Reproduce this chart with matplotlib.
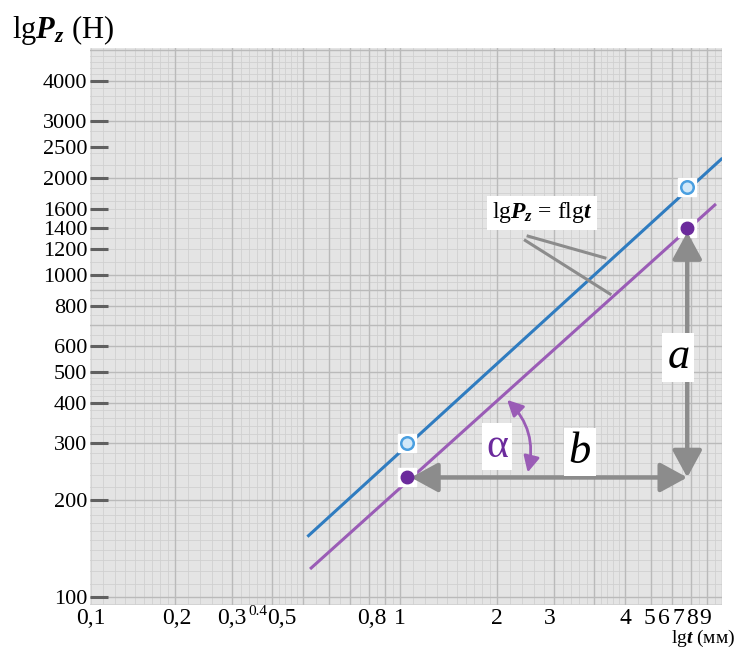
"""lgPz = f(lgt): Kraft Pz über Schnitttiefe t im doppeltlogarithmischen Raster."""

import numpy as np
import matplotlib.pyplot as plt
from matplotlib.patches import FancyArrowPatch

plt.rcParams["font.family"] = ["Liberation Serif", "DejaVu Serif"]
plt.rcParams["mathtext.fontset"] = "custom"
plt.rcParams["mathtext.rm"] = "Liberation Serif"
plt.rcParams["mathtext.it"] = "Liberation Serif:italic"
plt.rcParams["mathtext.bf"] = "Liberation Serif:bold"
plt.rcParams["mathtext.bfit"] = "Liberation Serif:italic:bold"

# Daten

# Geraden (Anfang, Ende)
BLAU_T = [0.52, 9.95]
BLAU_P = [155, 2290]
LILA_T = [0.53, 9.5]
LILA_P = [123, 1650]

# Messpunkte
PUNKT_T = [1.05, 7.8]
BLAU_PUNKT_P = [300, 1875]
LILA_PUNKT_P = [235, 1400]

# Achsenbeschriftung
Y_TICKS = [100, 200, 300, 400, 500, 600, 800, 1000, 1200, 1400, 1600,
           2000, 2500, 3000, 4000]
X_LABELS = ["0,1", "0,2", "0,3", "0,5", "0,8", "1", "2", "3", "4",
            "5", "6", "7", "8", "9"]
X_LABEL_POS = [0.11, 0.203, 0.30, 0.43, 0.82, 1.0, 2.0, 2.92, 5.0,
               5.95, 6.6, 7.3, 8.05, 8.85]

GRAU = "#8c8c8c"
BLAU = "#2f7cc0"
LILA = "#9a5cb6"
LILA_DUNKEL = "#6b2a9c"


def rasterlinien(lo, hi):
    """Feine, mittlere und grobe Linien des Logpapiers."""
    fein, mittel, grob = [], [], []
    for d in range(int(np.floor(np.log10(lo))), int(np.ceil(np.log10(hi))) + 1):
        base = 10.0 ** d
        grob.append(base)
        mittel += [k * base for k in range(2, 10)]
        fein += [base * (1 + 0.1 * k) for k in range(1, 10)]
        fein += [base * (2 + 0.2 * k) for k in range(1, 15) if k % 5]
        fein += [base * (5 + 0.5 * k) for k in range(1, 10) if k % 2]
    sel = lambda v: [x for x in v if lo <= x <= hi]
    return sel(fein), sel(mittel), sel(grob)


if __name__ == "__main__":

    fig = plt.figure(figsize=(7.37, 6.52), dpi=100)
    ax = fig.add_axes([90 / 737, 47 / 652, 632 / 737, 557 / 652])
    ax.set_xscale("log")
    ax.set_yscale("log")
    ax.set_xlim(0.109, 10)
    ax.set_ylim(94.4, 5070)
    ax.set_facecolor("#e4e4e4")
    for s in ax.spines.values():
        s.set_visible(False)

    # Raster
    fx, mx, gx = rasterlinien(0.109, 10)
    fy, my, gy = rasterlinien(94.4, 5070)
    for v in fx:
        ax.axvline(v, color="#d0d0d0", lw=0.6, zorder=0)
    for v in fy:
        ax.axhline(v, color="#d0d0d0", lw=0.6, zorder=0)
    for v in mx + gx:
        ax.axvline(v, color="#bababa", lw=1.0, zorder=0)
    for v in my + gy:
        ax.axhline(v, color="#bababa", lw=1.0, zorder=0)

    # y-Achse
    ax.set_yticks(Y_TICKS, [str(v) for v in Y_TICKS])
    ax.yaxis.set_minor_locator(plt.NullLocator())
    ax.tick_params(axis="y", direction="in", length=13, width=2.2,
                   color="#606060", labelsize=16, pad=2)

    # x-Achse
    ax.set_xticks(X_LABEL_POS, X_LABELS)
    ax.xaxis.set_minor_locator(plt.NullLocator())
    ax.tick_params(axis="x", length=0, labelsize=17, pad=2)
    ax.text(0.362, 0.0, "0.4", fontsize=11, ha="center", va="top",
            transform=ax.get_xaxis_transform(), clip_on=False)

    # Geraden und Punkte
    ax.plot(BLAU_T, BLAU_P, color=BLAU, lw=2.2, zorder=3)
    ax.plot(LILA_T, LILA_P, color=LILA, lw=2.2, zorder=3)
    ax.plot(PUNKT_T, BLAU_PUNKT_P, "s", color="white", ms=13, zorder=4)
    ax.plot(PUNKT_T, LILA_PUNKT_P, "s", color="white", ms=13, zorder=4)
    ax.plot(PUNKT_T, BLAU_PUNKT_P, "o", mfc="#d2e8f8", mec="#4a9fe0",
            mew=1.8, ms=9, zorder=5)
    ax.plot(PUNKT_T, LILA_PUNKT_P, "o", color=LILA_DUNKEL, ms=9, zorder=5)

    # Katheten a und b
    pfeil = dict(arrowstyle="<|-|>,head_length=1.1,head_width=0.6",
                 color=GRAU, lw=3.2, mutation_scale=15, zorder=4,
                 shrinkA=3, shrinkB=0)
    ax.add_patch(FancyArrowPatch((PUNKT_T[0], LILA_PUNKT_P[0]),
                                 (PUNKT_T[1], LILA_PUNKT_P[0]), **pfeil))
    ax.add_patch(FancyArrowPatch((PUNKT_T[1], LILA_PUNKT_P[0]),
                                 (PUNKT_T[1], LILA_PUNKT_P[1]),
                                 **dict(pfeil, shrinkA=0, shrinkB=3)))

    # Winkel alpha
    ax.add_patch(FancyArrowPatch((2.12, 415), (2.48, 239),
                                 connectionstyle="arc3,rad=-0.3",
                                 arrowstyle="<|-|>,head_length=0.8,head_width=0.4",
                                 color=LILA, lw=2, mutation_scale=12, zorder=4))

    box = dict(boxstyle="square,pad=0.1", fc="white", ec="none")
    ax.text(7.3, 556, "$a$", fontsize=32, ha="center", va="center",
            bbox=box, zorder=6)
    ax.text(3.62, 282, "$b$", fontsize=32, ha="center", va="center",
            bbox=box, zorder=6)
    ax.text(2.0, 293, "α", fontsize=30, color=LILA_DUNKEL, ha="center",
            va="center", bbox=box, zorder=6)

    # Beschriftung der Geraden
    ax.text(2.76, 1560, r"lg$\mathbfit{P}_{\mathbfit{z}}$ = flg$\mathbfit{t}$",
            fontsize=17, ha="center", va="center",
            bbox=dict(boxstyle="square,pad=0.2", fc="white", ec="none"),
            zorder=6)
    ax.plot([2.5, 4.33], [1320, 1130], color=GRAU, lw=2.2, zorder=2)
    ax.plot([2.45, 4.49], [1280, 873], color=GRAU, lw=2.2, zorder=4)

    # Achsentitel
    fig.text(12 / 737, 1 - 30 / 652, r"lg$\mathbfit{P}_{\mathbfit{z}}$ (H)",
             fontsize=22, ha="left", va="center")
    fig.text(735 / 737, 3 / 652, r"lg$\mathbfit{t}$ (мм)", fontsize=14,
             ha="right", va="bottom")

    fig.savefig("out.png", dpi=100)
